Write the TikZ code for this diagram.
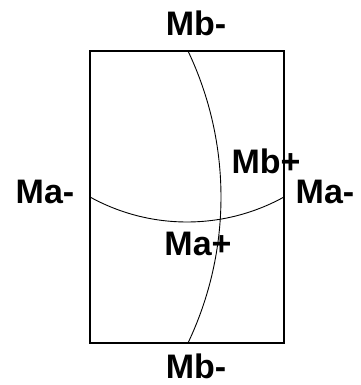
\documentclass[tikz,border=0pt]{standalone}
\usepackage{fontspec}
\setmainfont{Liberation Sans}
\begin{document}
\begin{tikzpicture}[x=1pt,y=-1pt,
  lbl/.style={inner sep=0pt,anchor=base,font=\fontsize{34}{34}\selectfont\bfseries},
  frame/.style={draw=black,line width=1.4pt},
  curve/.style={draw=black,line width=0.9pt}]
\useasboundingbox (0,0) rectangle (360,385);
\node[frame,minimum width=194pt,minimum height=292pt,inner sep=0pt] (box) at (187,197) {};
\coordinate (btop) at (188,51);
\coordinate (aleft) at (90,197);
\draw[curve] (btop) arc[start angle=25.47,end angle=-25.47,radius=339.5pt];
\draw[curve] (aleft) arc[start angle=241.1,end angle=298.9,radius=200.7pt];
\node[lbl] (mbtop) at (196,36) {Mb-};
\node[lbl] (mbbot) at (196,378) {Mb-};
\node[lbl] (maleft) at (45,203) {Ma-};
\node[lbl] (maright) at (325,203) {Ma-};
\node[lbl] (mbplus) at (266,173) {Mb+};
\node[lbl] (maplus) at (198,255) {Ma+};
\end{tikzpicture}
\end{document}
